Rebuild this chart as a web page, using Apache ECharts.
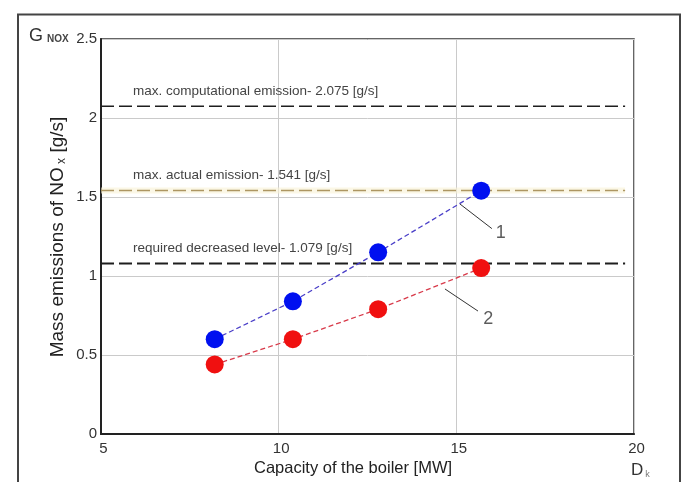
<!DOCTYPE html>
<html>
<head>
<meta charset="utf-8">
<script src="https://cdn.jsdelivr.net/npm/echarts@6/dist/echarts.min.js"></script>
<style>
  html, body { margin: 0; padding: 0; background: #fff; }
  #chart { width: 691px; height: 482px; }
</style>
</head>
<body>
<div id="chart"></div>
<script>
// Boiler capacity [MW] and NOx mass emissions [g/s]
const capacity = [8.2, 10.4, 12.8, 15.7];
const emission1 = [0.60, 0.84, 1.15, 1.54];
const emission2 = [0.44, 0.60, 0.79, 1.05];

// Horizontal reference levels
const levelValues = [2.075, 1.541, 1.079];
const levelTexts = [
  'max. computational emission- 2.075 [g/s]',
  'max. actual emission- 1.541 [g/s]',
  'required decreased level- 1.079 [g/s]'
];
const levelSpan = [5, 19.75];

// Curve identifiers with their leader lines (data coordinates)
const leaderNames = ['1', '2'];
const leaderLines = [
  [[15.10, 1.456], [16.00, 1.300]],
  [[14.68, 0.918], [15.61, 0.778]]
];
const leaderTextAt = [[16.25, 1.27], [15.90, 0.73]];

// Axis ranges and ticks
const xRange = [5, 20];
const xStep = 5;
const yRange = [0, 2.5];
const yStep = 0.5;

const FONT = "'Liberation Sans', Arial, sans-serif";
const levelColors = ['#1e1e1e', '#ad9662', '#1e1e1e'];
const levelWidths = [1.5, 1.5, 2];

const chart = echarts.init(document.getElementById('chart'), null, { renderer: 'canvas' });

const series = [];

// reference levels as dashed segments
levelValues.forEach((v, i) => {
  if (i === 1) {
    series.push({
      type: 'line', silent: true, symbol: 'none', z: 1,
      data: [[levelSpan[0], v], [levelSpan[1], v]],
      lineStyle: { color: 'rgba(248,242,214,0.6)', width: 6 }
    });
  }
  series.push({
    type: 'line', silent: true, symbol: 'none', z: 2,
    data: [[levelSpan[0], v], [levelSpan[1], v]],
    lineStyle: { color: levelColors[i], width: levelWidths[i], type: [13, 5] }
  });
});

// measured curves
const pairs = (ys) => capacity.map((x, i) => [x, ys[i]]);
series.push({
  name: '1', type: 'line', z: 5, data: pairs(emission1),
  symbol: 'circle', symbolSize: 18,
  itemStyle: { color: '#0010f0' },
  lineStyle: { color: '#4a3fc8', width: 1.3, type: [5, 3] }
});
series.push({
  name: '2', type: 'line', z: 5, data: pairs(emission2),
  symbol: 'circle', symbolSize: 18,
  itemStyle: { color: '#f01010' },
  lineStyle: { color: '#d83a4a', width: 1.3, type: [5, 3] }
});

// leader lines for curve numbers
leaderLines.forEach((seg, i) => {
  series.push({
    type: 'line', silent: true, symbol: 'none', z: 4,
    data: seg,
    lineStyle: { color: '#333', width: 1 }
  });
  series.push({
    type: 'scatter', silent: true, symbolSize: 0, z: 6,
    data: [leaderTextAt[i]],
    label: {
      show: true, position: 'inside', formatter: leaderNames[i],
      color: '#333', fontFamily: FONT, fontSize: 18
    }
  });
});

chart.setOption({
  animation: false,
  backgroundColor: '#fff',
  grid: {
    left: 101, top: 39, right: 57, bottom: 48,
    show: true, borderColor: '#333', borderWidth: 1.5,
    backgroundColor: 'transparent'
  },
  xAxis: {
    type: 'value', min: xRange[0], max: xRange[1], interval: xStep,
    axisLine: { show: true, onZero: false, lineStyle: { color: '#222', width: 2 } },
    axisTick: { show: false },
    splitLine: { show: true, lineStyle: { color: '#cacaca', width: 1 } },
    axisLabel: { color: '#333', fontFamily: FONT, fontSize: 15, margin: 7, padding: [0, 0, 0, 5] }
  },
  yAxis: {
    type: 'value', min: yRange[0], max: yRange[1], interval: yStep,
    axisLine: { show: true, onZero: false, lineStyle: { color: '#222', width: 2 } },
    axisTick: { show: false },
    splitLine: { show: true, lineStyle: { color: '#cacaca', width: 1 } },
    axisLabel: { color: '#333', fontFamily: FONT, fontSize: 15, margin: 4 }
  },
  series: series
});

// texts positioned from the axis scales
const px = (x, y) => chart.convertToPixel({ gridIndex: 0 }, [x, y]);
const graphics = [];

// outer frame
graphics.push({
  type: 'rect', silent: true, z: 0,
  shape: { x: 18, y: 14.5, width: 662, height: 480 },
  style: { fill: 'none', stroke: '#444', lineWidth: 2 }
});

levelValues.forEach((v, i) => {
  const p = px(levelSpan[0], v);
  graphics.push({
    type: 'text', silent: true, z: 10,
    x: p[0] + 32, y: p[1] - 15,
    style: {
      text: levelTexts[i], fill: '#444', font: '13.5px ' + FONT,
      textAlign: 'left', textVerticalAlign: 'middle'
    }
  });
});

// y axis title, rotated
graphics.push({
  type: 'text', silent: true, z: 10,
  x: 58, y: 237, rotation: Math.PI / 2,
  style: {
    text: '{a|Mass emissions of NO}{s| x}{a| [g/s]}',
    rich: {
      a: { fontFamily: FONT, fontSize: 19, fill: '#222' },
      s: { fontFamily: FONT, fontSize: 12, fill: '#222', padding: [7, 0, 0, 0] }
    },
    textAlign: 'center', textVerticalAlign: 'middle'
  }
});

// x axis title
graphics.push({
  type: 'text', silent: true, z: 10,
  x: 353, y: 468,
  style: {
    text: 'Capacity of the boiler [MW]', fill: '#222', font: '16.5px ' + FONT,
    textAlign: 'center', textVerticalAlign: 'middle'
  }
});

// axis symbols
graphics.push({
  type: 'text', silent: true, z: 10,
  x: 29, y: 36,
  style: {
    text: '{a|G}{s|NOX}',
    rich: {
      a: { fontFamily: FONT, fontSize: 18, fill: '#333' },
      s: { fontFamily: FONT, fontSize: 10, fontWeight: 'bold', fill: '#444', padding: [7, 0, 0, 4] }
    },
    textAlign: 'left', textVerticalAlign: 'middle'
  }
});
graphics.push({
  type: 'text', silent: true, z: 10,
  x: 631, y: 470,
  style: {
    text: '{a|D}{s|k}',
    rich: {
      a: { fontFamily: FONT, fontSize: 17, fill: '#333' },
      s: { fontFamily: FONT, fontSize: 9, fill: '#777', padding: [9, 0, 0, 2] }
    },
    textAlign: 'left', textVerticalAlign: 'middle'
  }
});

chart.setOption({ graphic: graphics });
</script>
</body>
</html>
